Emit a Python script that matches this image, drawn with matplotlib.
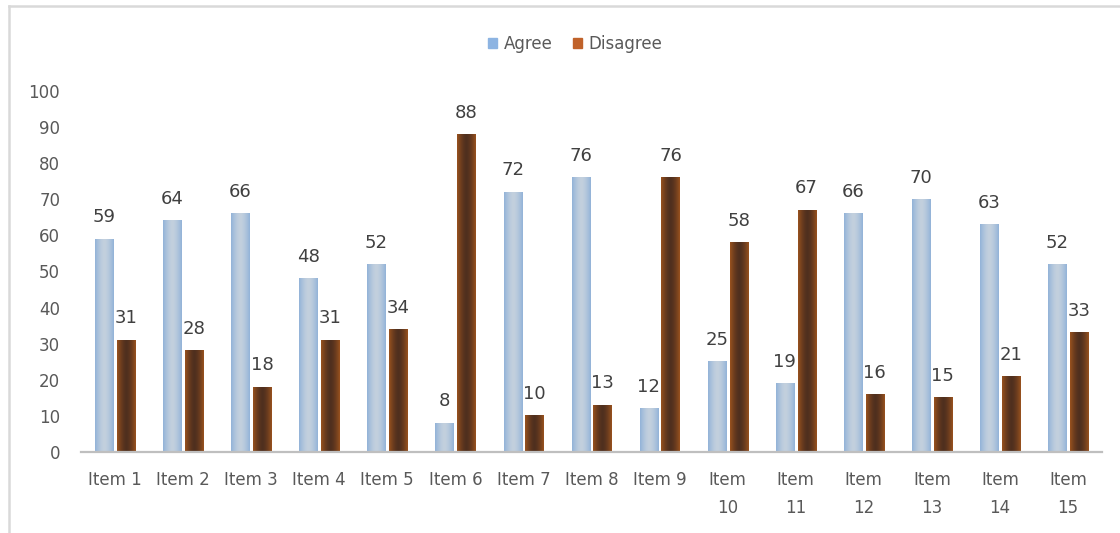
import numpy as np
import matplotlib
matplotlib.use("Agg")
import matplotlib.pyplot as plt
from matplotlib.colors import to_rgb
from matplotlib.lines import Line2D

categories = ["Item 1", "Item 2", "Item 3", "Item 4", "Item 5", "Item 6", "Item 7",
              "Item 8", "Item 9", "Item\n10", "Item\n11", "Item\n12", "Item\n13",
              "Item\n14", "Item\n15"]
agree = [59, 64, 66, 48, 52, 8, 72, 76, 12, 25, 19, 66, 70, 63, 52]
disagree = [31, 28, 18, 31, 34, 88, 10, 13, 76, 58, 67, 16, 15, 21, 33]
series_names = ["Agree", "Disagree"]
yticks = [0, 10, 20, 30, 40, 50, 60, 70, 80, 90, 100]

plt.rcParams['font.family'] = ['DejaVu Sans']

fig = plt.figure(figsize=(11.2, 5.33), dpi=100)
ax = fig.add_axes([81 / 1120, 1 - 452 / 533, (1102 - 81) / 1120, (452 - 91) / 533])

x = np.arange(len(categories))
w = 0.265
off = 0.16
b1 = ax.bar(x - off, agree, w, color="#A9C1DC", label=series_names[0])
b2 = ax.bar(x + off, disagree, w, color="#7A4222", label=series_names[1])


def grad_fill(bars, center, edge):
    c = np.array(to_rgb(center))
    e = np.array(to_rgb(edge))
    n = 64
    t = np.abs(np.linspace(-1, 1, n)) ** 1.6
    row = c[None, :] * (1 - t[:, None]) + e[None, :] * t[:, None]
    img = np.repeat(row[None, :, :], 2, axis=0)
    for p in bars:
        x0 = p.get_x()
        ax.imshow(img, extent=[x0, x0 + p.get_width(), 0, p.get_height()],
                  aspect='auto', interpolation='bilinear', zorder=p.get_zorder() + 0.1)


grad_fill(b1, "#C3D0DE", "#92B3D8")
grad_fill(b2, "#4F2F1E", "#99521F")

for bars in (b1, b2):
    for p in bars:
        h = p.get_height()
        ax.annotate(f"{h:.0f}", (p.get_x() + p.get_width() / 2, h),
                    xytext=(0, 12), textcoords="offset points",
                    ha="center", va="baseline", fontsize=13, color="#404040")

ax.set_xlim(-0.5, len(categories) - 0.5)
ax.set_ylim(0, 100)
ax.set_yticks(yticks)
ax.set_xticks(x)
ax.set_xticklabels(categories, linespacing=1.7)
ax.tick_params(axis='both', length=0, labelsize=12, colors="#595959")
ax.tick_params(axis='x', pad=14)
ax.tick_params(axis='y', pad=15)
for s in ("top", "right", "left"):
    ax.spines[s].set_visible(False)
ax.spines["bottom"].set_color("#BFBFBF")
ax.spines["bottom"].set_linewidth(1.6)

leg = fig.legend(handles=[b1, b2], labels=series_names, loc="center",
                 bbox_to_anchor=(575 / 1120, 1 - 44 / 533), ncol=2, frameon=False,
                 fontsize=12, handlelength=0.55, handleheight=0.55, handletextpad=0.4,
                 columnspacing=1.2, labelcolor="#595959")
leg.legend_handles[0].set_color("#8DB4E2")
leg.legend_handles[1].set_color("#C0622A")

fig.add_artist(Line2D([9 / 1120, 9 / 1120], [0, 1 - 6 / 533], transform=fig.transFigure,
                      color="#D9D9D9", lw=1.8))
fig.add_artist(Line2D([9 / 1120, 1], [1 - 6 / 533, 1 - 6 / 533], transform=fig.transFigure,
                      color="#D9D9D9", lw=1.8))

fig.savefig("out.png", dpi=100)
